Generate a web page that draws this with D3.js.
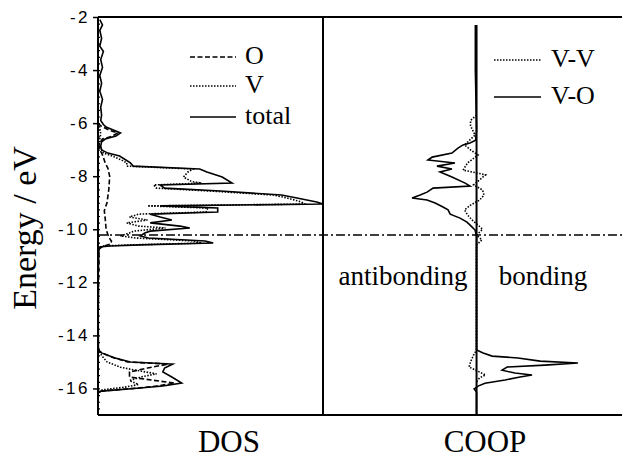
<!DOCTYPE html>
<html>
<head>
<meta charset="utf-8">
<script src="https://cdn.jsdelivr.net/npm/d3@7"></script>
<style>
body { margin: 0; background: #fff; }
text { fill: #000; }
</style>
</head>
<body>
<div class="chart"></div>
<script>
// energies in eV, DOS in arbitrary units, COOP in arbitrary units
const dosTotal = [[-2.1,0.2],[-2.3,0.5],[-2.5,0.2],[-2.8,0.4],[-3.1,0.2],[-3.3,0.6],[-3.6,0.3],[-3.9,0.5],
  [-4.2,0.2],[-4.5,0.4],[-4.8,0.2],[-5.1,0.5],[-5.4,0.3],[-5.7,0.4],[-5.9,0.3],[-6.05,0.6],
  [-6.15,0.9],[-6.26,1.7],[-6.37,2.5],[-6.49,2.0],[-6.6,0.8],[-6.71,0.4],[-6.86,0.3],[-7.01,0.4],
  [-7.13,1.1],[-7.24,2.4],[-7.39,3.1],[-7.5,3.6],[-7.62,3.9],[-7.73,11.3],[-7.84,12.1],[-8.03,13.8],
  [-8.26,14.9],[-8.33,6.9],[-8.45,7.4],[-8.56,13.6],[-8.71,20.4],[-8.82,22.1],[-8.97,24.3],[-9.05,25.0],
  [-9.12,6.9],[-9.2,13.3],[-9.35,13.3],[-9.43,5.8],[-9.54,6.9],[-9.65,8.2],[-9.76,5.8],[-9.88,9.1],
  [-9.95,10.2],[-10.07,5.8],[-10.14,5.2],[-10.25,4.7],[-10.33,5.6],[-10.44,11.9],[-10.52,12.8],
  [-10.59,4.7],[-10.63,1.3],[-10.67,0.2],[-10.78,0.1],[-12.0,0],[-14.55,0.05],[-14.66,0.4],
  [-14.85,1.9],[-15.0,3.6],[-15.08,8.3],[-15.23,7.4],[-15.38,7.2],[-15.57,8.2],[-15.8,9.3],
  [-15.91,7.2],[-15.98,4.7],[-16.1,0.4],[-16.17,0],[-17,0]];

const dosV = [[-6.0,0.1],[-6.4,0.3],[-6.8,0.1],[-7.13,0.6],[-7.24,1.6],[-7.39,2.6],[-7.5,3.2],[-7.62,3.2],
  [-7.73,10.6],[-7.84,10.0],[-8.03,9.5],[-8.2,10.4],[-8.26,11.5],[-8.33,6.2],[-8.45,6.5],[-8.56,12.5],
  [-8.71,19.5],[-8.82,21.0],[-8.97,22.6],[-9.05,23.0],[-9.12,5.5],[-9.2,12.2],[-9.35,12.0],[-9.43,4.5],
  [-9.54,3.5],[-9.65,5.5],[-9.76,3.2],[-9.88,4.5],[-9.95,7.5],[-10.07,4.0],[-10.14,3.5],[-10.25,2.5],
  [-10.33,4.2],[-10.44,10.6],[-10.52,11.5],[-10.59,3.5],[-10.63,0.5],[-10.7,0],[-14.55,0],
  [-14.8,0.5],[-15.0,1.0],[-15.2,2.5],[-15.3,4.0],[-15.45,6.5],[-15.55,5.0],[-15.7,3.5],[-15.85,4.5],
  [-15.95,3.0],[-16.05,0.5],[-16.15,0]];

const dosO = [[-6.0,0],[-6.1,0.3],[-6.26,1.2],[-6.37,2.2],[-6.49,1.6],[-6.6,0.5],[-6.8,0.1],[-7.0,0.2],
  [-7.2,0.5],[-7.5,0.8],[-7.7,1.1],[-8.0,1.3],[-8.5,1.2],[-9.0,1.0],[-9.3,0.7],[-9.6,0.8],[-10.0,0.9],
  [-10.3,1.2],[-10.45,1.5],[-10.55,1.4],[-10.65,0.5],[-10.75,0.1],[-14.55,0],[-14.66,0.4],
  [-14.85,1.8],[-15.0,3.3],[-15.08,7.8],[-15.23,5.5],[-15.38,3.5],[-15.57,3.5],[-15.8,8.5],
  [-15.91,6.5],[-15.98,4.5],[-16.1,0.3],[-16.17,0]];

const coopVO = [[-2.3,-0.004],[-4.0,-0.004],[-6.26,0],[-6.64,-0.003],[-6.75,-0.022],[-6.82,-0.045],
  [-6.94,-0.062],[-7.13,-0.082],[-7.28,-0.148],[-7.39,-0.162],[-7.5,-0.072],[-7.62,-0.132],
  [-7.73,-0.082],[-7.84,-0.122],[-8.03,-0.082],[-8.26,-0.038],[-8.37,-0.022],[-8.45,-0.145],
  [-8.6,-0.165],[-8.71,-0.188],[-8.82,-0.215],[-8.9,-0.165],[-9.01,-0.138],[-9.16,-0.112],
  [-9.27,-0.095],[-9.43,-0.088],[-9.58,-0.055],[-9.73,-0.032],[-9.88,-0.018],[-10.03,-0.005],
  [-10.25,0],[-14.55,0],[-14.66,0.022],[-14.78,0.052],[-14.85,0.138],[-14.97,0.212],[-15.04,0.338],
  [-15.12,0.228],[-15.19,0.102],[-15.31,0.085],[-15.42,0.128],[-15.49,0.185],[-15.57,0.145],
  [-15.68,0.095],[-15.8,0.028],[-15.91,0.005],[-16.02,-0.008],[-16.13,0],[-17,0]];

const coopVV = [[-5.7,0],[-5.9,-0.02],[-6.1,-0.02],[-6.45,-0.005],[-6.82,-0.04],[-7.01,-0.02],[-7.2,0.005],
  [-7.5,-0.03],[-7.77,-0.045],[-7.95,0.03],[-8.14,0.01],[-8.33,-0.01],[-8.52,0.02],[-8.71,0.025],
  [-8.9,0.01],[-9.09,-0.02],[-9.27,-0.04],[-9.46,-0.03],[-9.65,-0.015],[-9.84,0.005],[-10.0,0.02],
  [-10.22,0],[-10.4,0.018],[-10.59,0],[-14.55,0],[-14.74,-0.01],[-15.0,-0.02],[-15.19,-0.025],
  [-15.38,0.01],[-15.49,0.03],[-15.6,0.01],[-15.75,0]];

const fermiLevel = -10.22;
const yTicks = [-2,-4,-6,-8,-10,-12,-14,-16];
const dosNames = ['O','V','total'];
const coopNames = ['V-V','V-O'];

const width = 622, height = 459;

const svg = d3.select('.chart')
  .append('svg')
  .attr('width', width)
  .attr('height', height);

const yScale = d3.scaleLinear().domain([-2,-17]).range([17,415]);
const xDos = d3.scaleLinear().domain([0,25]).range([98,323]);
const xCoop = d3.scaleLinear().domain([-0.512,0.485]).range([323,622]);

const dash = {O:'5,2.5', V:'1.5,1.5', total:null, 'V-V':'1.5,1.5', 'V-O':null};

// minor ticks
svg.append('g')
  .attr('transform', 'translate(98,0)')
  .call(d3.axisLeft(yScale).tickValues(d3.range(-2,-17.01,-0.25)).tickSize(3).tickFormat(''))
  .call(g => g.select('.domain').remove())
  .call(g => g.selectAll('.tick line').attr('x2', 2).attr('stroke-width', 1.2));

// major ticks + labels
svg.append('g')
  .attr('transform', 'translate(98,0)')
  .call(d3.axisLeft(yScale).tickValues(yTicks).tickSize(5).tickPadding(3).tickFormat(d => String(d)))
  .call(g => g.select('.domain').remove())
  .call(g => g.selectAll('.tick line').attr('stroke-width', 1.5))
  .call(g => g.selectAll('.tick text')
    .attr('font-family', 'Liberation Sans, Arial, sans-serif')
    .attr('font-size', 17)
    .attr('letter-spacing', '2.5px')
    .attr('fill', '#000'));

// curves
const dosLine = d3.line().x(d => xDos(d[1])).y(d => yScale(d[0]));
const coopLine = d3.line().x(d => xCoop(d[1])).y(d => yScale(d[0]));

[['O', dosO], ['V', dosV], ['total', dosTotal]].forEach(([k, data]) => {
  svg.append('path')
    .datum(data)
    .attr('d', dosLine)
    .attr('fill', 'none')
    .attr('stroke', '#000')
    .attr('stroke-width', 1.6)
    .attr('stroke-dasharray', dash[k]);
});

[['V-V', coopVV], ['V-O', coopVO]].forEach(([k, data]) => {
  svg.append('path')
    .datum(data)
    .attr('d', coopLine)
    .attr('fill', 'none')
    .attr('stroke', '#000')
    .attr('stroke-width', 1.6)
    .attr('stroke-dasharray', dash[k]);
});

// frame
const frame = svg.append('g').attr('stroke', '#000').attr('stroke-width', 2);
frame.append('line').attr('x1', xDos(0)).attr('x2', width).attr('y1', yScale(-2)).attr('y2', yScale(-2));
frame.append('line').attr('x1', xDos(0)).attr('x2', width).attr('y1', yScale(-17)).attr('y2', yScale(-17));
frame.append('line').attr('x1', xDos(0)).attr('x2', xDos(0)).attr('y1', yScale(-2)).attr('y2', yScale(-17));
frame.append('line').attr('x1', xCoop.range()[0]).attr('x2', xCoop.range()[0]).attr('y1', yScale(-2)).attr('y2', yScale(-17));
frame.append('line').attr('x1', xCoop(0)).attr('x2', xCoop(0)).attr('y1', yScale(-2.3)).attr('y2', yScale(-17));

// fermi level
svg.append('line')
  .attr('x1', xDos(0)).attr('x2', width)
  .attr('y1', yScale(fermiLevel)).attr('y2', yScale(fermiLevel))
  .attr('stroke', '#000')
  .attr('stroke-width', 1.5)
  .attr('stroke-dasharray', '9,3,2,3');

const serif = 'Liberation Serif, Times New Roman, serif';

// axis title
svg.append('text')
  .attr('transform', 'translate(36,228) rotate(-90)')
  .attr('text-anchor', 'middle')
  .attr('font-family', serif)
  .attr('font-size', 34)
  .text('Energy / eV');

svg.append('text')
  .attr('x', 229).attr('y', 452)
  .attr('text-anchor', 'middle')
  .attr('font-family', serif)
  .attr('font-size', 31)
  .text('DOS');

svg.append('text')
  .attr('x', 485).attr('y', 452)
  .attr('text-anchor', 'middle')
  .attr('font-family', serif)
  .attr('font-size', 31)
  .text('COOP');

svg.append('text')
  .attr('x', 403).attr('y', 285)
  .attr('text-anchor', 'middle')
  .attr('font-family', serif)
  .attr('font-size', 27)
  .text('antibonding');

svg.append('text')
  .attr('x', 543).attr('y', 285)
  .attr('text-anchor', 'middle')
  .attr('font-family', serif)
  .attr('font-size', 27)
  .text('bonding');

// legends
const dosLeg = svg.append('g').attr('transform', 'translate(190,57)');
dosNames.forEach((n, i) => {
  const g = dosLeg.append('g').attr('transform', `translate(0,${[0, 29, 60][i]})`);
  g.append('line').attr('x1', 0).attr('x2', 46)
    .attr('stroke', '#000').attr('stroke-width', 1.6).attr('stroke-dasharray', dash[n]);
  g.append('text').attr('x', 55).attr('y', 7)
    .attr('font-family', serif).attr('font-size', 26).text(n);
});

const coopLeg = svg.append('g').attr('transform', 'translate(494,60)');
coopNames.forEach((n, i) => {
  const g = coopLeg.append('g').attr('transform', `translate(0,${i * 37})`);
  g.append('line').attr('x1', 0).attr('x2', 47)
    .attr('stroke', '#000').attr('stroke-width', 1.6).attr('stroke-dasharray', dash[n]);
  g.append('text').attr('x', 57).attr('y', 7)
    .attr('font-family', serif).attr('font-size', 26).text(n);
});
</script>
</body>
</html>
